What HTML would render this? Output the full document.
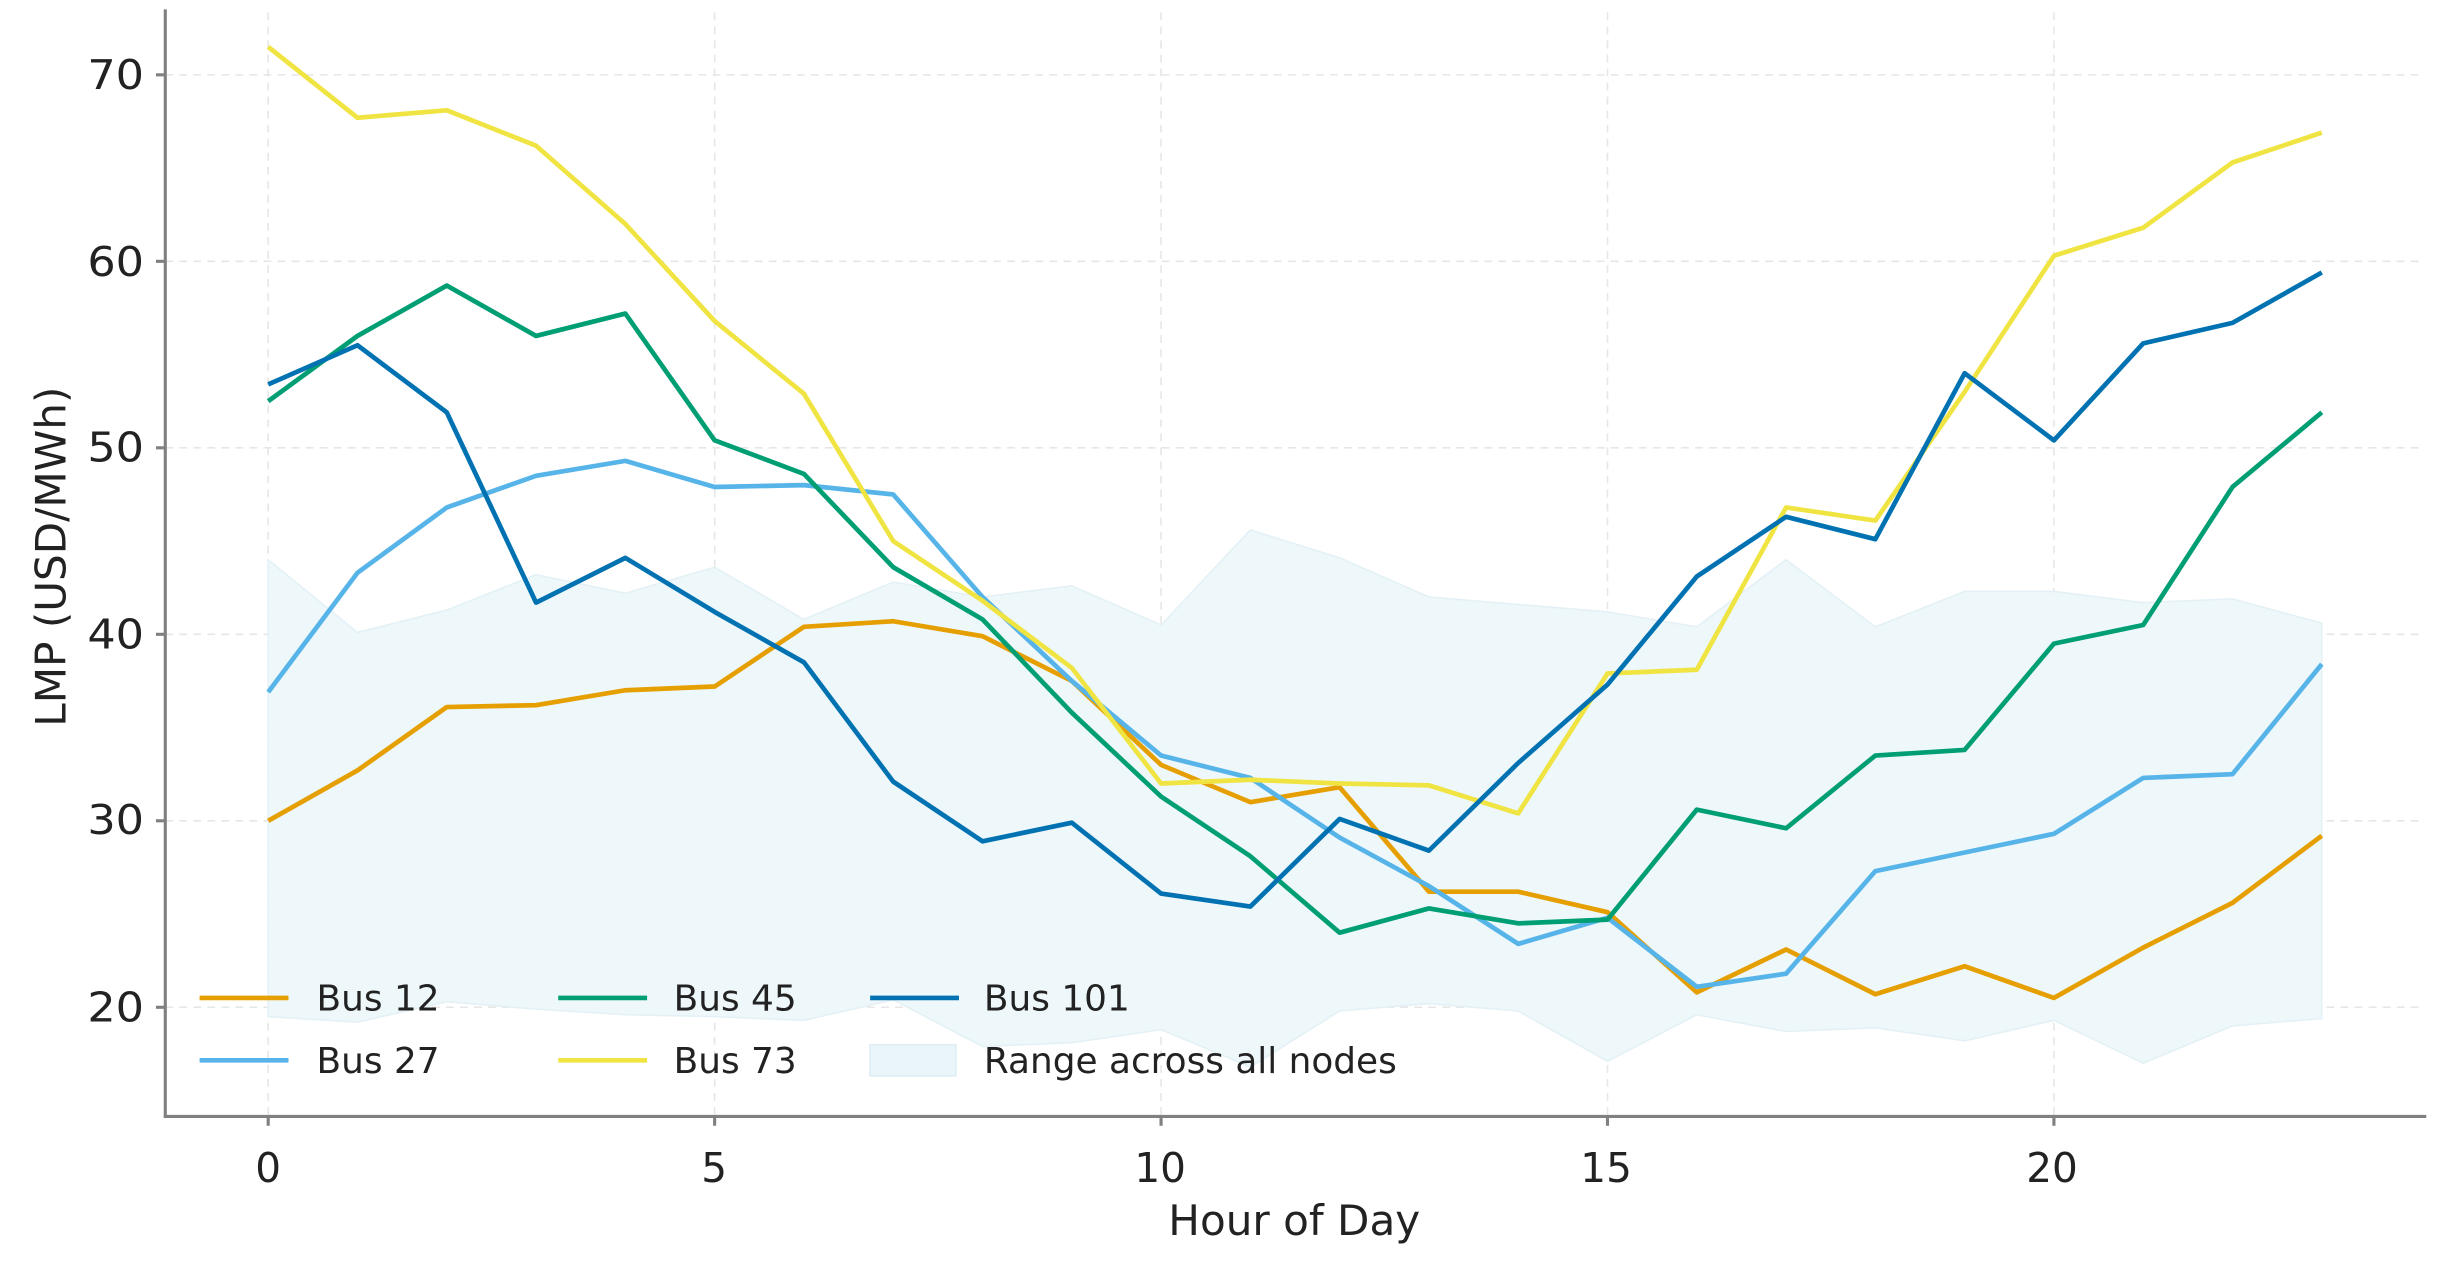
<!DOCTYPE html>
<html><head><meta charset="utf-8"><style>
html,body{margin:0;padding:0;background:#fff;}
svg{display:block;}
text{font-family:"DejaVu Sans","Liberation Sans",sans-serif;fill:#222;}
</style></head><body>
<svg id="s" width="2445" height="1263" viewBox="0 0 1568 810" preserveAspectRatio="none" xmlns="http://www.w3.org/2000/svg">
<g id="grid" stroke="#e6e6e6" stroke-width="1" stroke-dasharray="5,4"></g>
<g id="plot"></g>
<line x1="106" y1="6" x2="106" y2="717" stroke="#808080" stroke-width="2"/>
<line x1="105" y1="716" x2="1556" y2="716" stroke="#808080" stroke-width="2"/>
<g id="ticks"></g>
<g font-size="26" text-anchor="end" transform="scale(1.1,1)">
<text x="84" y="57">70</text><text x="84" y="177">60</text><text x="84" y="296">50</text>
<text x="84" y="416">40</text><text x="84" y="535">30</text><text x="84" y="655">20</text>
</g>
<g font-size="26" text-anchor="middle">
<text x="172" y="758">0</text><text x="458" y="758">5</text><text x="744" y="758">10</text>
<text x="1030" y="758">15</text><text x="1316" y="758">20</text>
</g>
<text x="830" y="792" font-size="27" text-anchor="middle">Hour of Day</text>
<text transform="translate(42,357) rotate(-90)" font-size="27" text-anchor="middle">LMP (USD/MWh)</text>
<g font-size="23" fill="#333">
<line x1="128" y1="640" x2="185" y2="640" stroke="#E69F00" stroke-width="3"/><text x="203" y="648">Bus 12</text>
<line x1="128" y1="680" x2="185" y2="680" stroke="#56B4E9" stroke-width="3"/><text x="203" y="688">Bus 27</text>
<line x1="358" y1="640" x2="415" y2="640" stroke="#009E73" stroke-width="3"/><text x="432" y="648">Bus 45</text>
<line x1="358" y1="680" x2="415" y2="680" stroke="#F0E442" stroke-width="3"/><text x="432" y="688">Bus 73</text>
<line x1="558" y1="640" x2="615" y2="640" stroke="#0072B2" stroke-width="3"/><text x="631" y="648">Bus 101</text>
<rect x="558" y="670" width="55" height="20" fill="#eaf5f9" stroke="#dcedf3"/><text x="631" y="688">Range across all nodes</text>
</g>
</svg>
<script>
const X=h=>172+h*57.26, Y=v=>646-(v-20)*11.96;
const NS="http://www.w3.org/2000/svg";
function el(p,t,a){const e=document.createElementNS(NS,t);for(const k in a)e.setAttribute(k,a[k]);document.getElementById(p).appendChild(e);return e;}
[20,30,40,50,60,70].forEach(v=>el("grid","line",{x1:106,x2:1555,y1:Y(v),y2:Y(v)}));
[0,5,10,15,20].forEach(h=>{el("grid","line",{x1:X(h),x2:X(h),y1:8,y2:716});el("ticks","line",{x1:X(h),x2:X(h),y1:716,y2:722,stroke:"#808080","stroke-width":2});});
[20,30,40,50,60,70].forEach(v=>el("ticks","line",{x1:100,x2:106,y1:Y(v),y2:Y(v),stroke:"#808080","stroke-width":2}));
const up=[44,40.1,41.3,43.2,42.2,43.6,40.8,42.8,42,42.6,40.5,45.6,44.1,42,41.6,41.2,40.4,44,40.4,42.3,42.3,41.7,41.9,40.6];
const lo=[19.5,19.2,20.3,19.9,19.6,19.5,19.3,20.4,17.9,18.1,18.8,16.8,19.8,20.2,19.8,17.1,19.6,18.7,18.9,18.2,19.3,17,19,19.4];
let pts=up.map((v,i)=>X(i)+","+Y(v));for(let i=23;i>=0;i--)pts.push(X(i)+","+Y(lo[i]));
el("plot","polygon",{points:pts.join(" "),fill:"#eef7fa",stroke:"#e3f1f6","stroke-width":1});
const S=[
["#E69F00",[30,32.7,36.1,36.2,37,37.2,40.4,40.7,39.9,37.5,33,31,31.8,26.2,26.2,25.1,20.8,23.1,20.7,22.2,20.5,23.2,25.6,29.2]],
["#56B4E9",[36.9,43.3,46.8,48.5,49.3,47.9,48,47.5,42,37.5,33.5,32.3,29.1,26.5,23.4,24.8,21.1,21.8,27.3,28.3,29.3,32.3,32.5,38.4]],
["#009E73",[52.5,56,58.7,56,57.2,50.4,48.6,43.6,40.8,35.8,31.3,28.1,24,25.3,24.5,24.7,30.6,29.6,33.5,33.8,39.5,40.5,47.9,51.9]],
["#F0E442",[71.5,67.7,68.1,66.2,62,56.8,52.9,45,41.8,38.2,32,32.2,32,31.9,30.4,37.9,38.1,46.8,46.1,53,60.3,61.8,65.3,66.9]],
["#0072B2",[53.4,55.5,51.9,41.7,44.1,41.2,38.5,32.1,28.9,29.9,26.1,25.4,30.1,28.4,33.1,37.3,43.1,46.3,45.1,54,50.4,55.6,56.7,59.4]]];
S.forEach(([c,d])=>el("plot","polyline",{points:d.map((v,i)=>X(i)+","+Y(v)).join(" "),fill:"none",stroke:c,"stroke-width":3,"stroke-linejoin":"round"}));
</script>
</body></html>
